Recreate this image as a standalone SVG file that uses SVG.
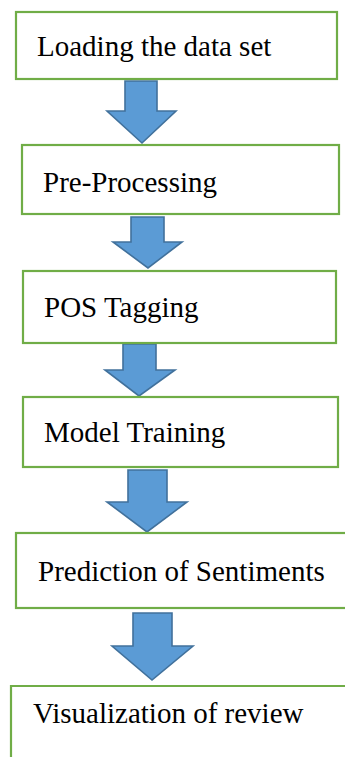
<svg xmlns="http://www.w3.org/2000/svg" width="345" height="757" viewBox="0 0 345 757">
  <style>
    .box { fill: #ffffff; stroke: #70ad47; stroke-width: 2.2; }
    .label { font-family: "Liberation Serif", "Times New Roman", serif; font-size: 29px; fill: #000000; }
    .arrow { fill: #5b9bd5; stroke: #41719c; stroke-width: 1.6; stroke-linejoin: miter; }
  </style>
  <rect width="345" height="757" fill="#ffffff"/>

  <!-- flow connectors: block arrows between stages -->
  <g id="connectors">
    <path class="arrow" d="M125,81 H157 V111 H176 L142,143 L107,111 H125 Z"/>
    <path class="arrow" d="M131,217 H164 V242 H182 L148,268 L113,242 H131 Z"/>
    <path class="arrow" d="M123,344 H156 V370 H175 L139,396 L105,370 H123 Z"/>
    <path class="arrow" d="M128,470 H167 V502 H187 L147,532 L107,502 H128 Z"/>
    <path class="arrow" d="M133,613 H172 V646 H193 L152,680 L112,646 H133 Z"/>
  </g>

  <g id="load-data">
    <rect class="box" x="16" y="12" width="321" height="67"/>
    <text class="label" x="37" y="56">Loading the data set</text>
  </g>

  <g id="pre-processing">
    <rect class="box" x="22" y="145" width="317" height="69"/>
    <text class="label" x="43" y="192">Pre-Processing</text>
  </g>

  <g id="pos-tagging">
    <rect class="box" x="23" y="271" width="313" height="72"/>
    <text class="label" x="44" y="317">POS Tagging</text>
  </g>

  <g id="model-training">
    <rect class="box" x="23" y="397" width="315" height="70"/>
    <text class="label" x="44" y="442">Model Training</text>
  </g>

  <g id="prediction">
    <rect class="box" x="16" y="533" width="340" height="75"/>
    <text class="label" x="38" y="581">Prediction of Sentiments</text>
  </g>

  <g id="visualization">
    <path class="box" fill="none" d="M11,757 V686 H350"/>
    <text class="label" x="33" y="723">Visualization of review</text>
  </g>
</svg>
